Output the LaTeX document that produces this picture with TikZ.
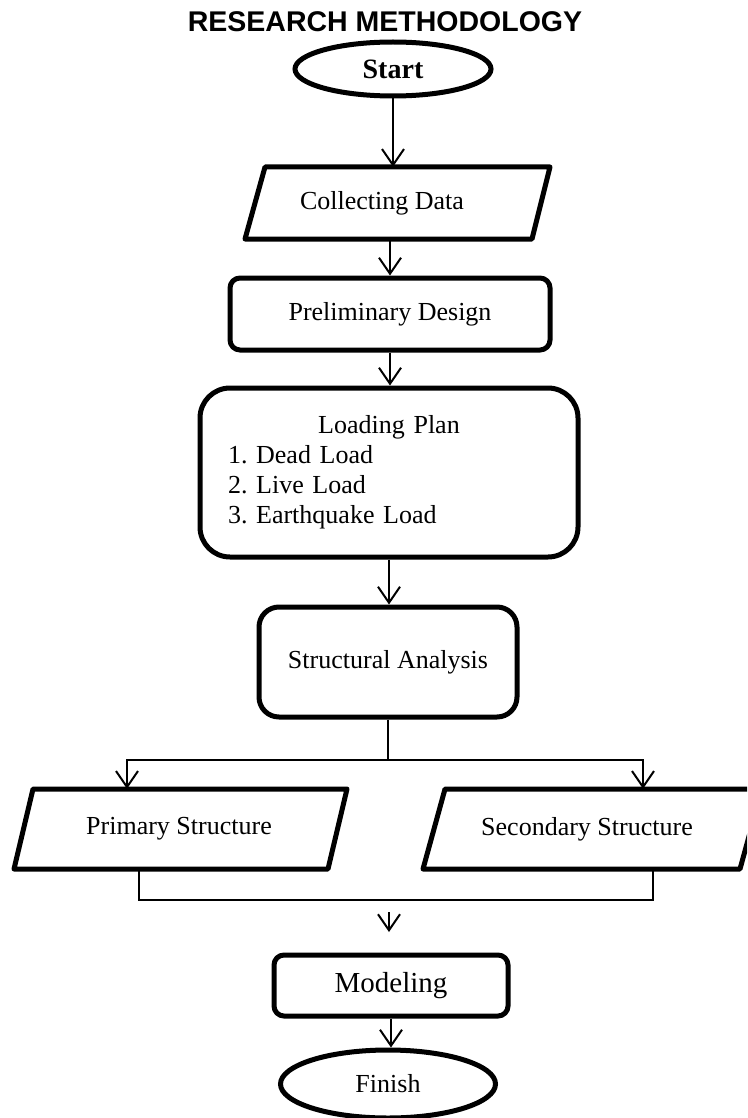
\documentclass[tikz,border=0pt]{standalone}
\usepackage{fontspec}
\setmainfont{Liberation Serif}
\newfontfamily\titlefont{Liberation Sans}
\usetikzlibrary{shapes.geometric,arrows.meta,calc}
\frenchspacing
\begin{document}
\begin{tikzpicture}[x=1pt,y=-1pt,
  bodyfont/.style={font=\fontsize{26}{30}\selectfont},
  rbox/.style={draw, line width=5pt, inner sep=0pt, bodyfont},
  ovalbox/.style={draw, ellipse, line width=5pt, inner sep=0pt, bodyfont},
  txtbox/.style={inner sep=0pt, bodyfont},
  outline/.style={draw, line width=5pt, line join=round},
  conn/.style={draw, line width=2pt},
  arr/.style={conn, -{Straight Barb[length=16pt,width=22pt]}}]
\clip (0,0) rectangle (747,1118);
\fill[white] (0,0) rectangle (747,1118);

\node[font=\titlefont\bfseries\fontsize{28.5}{33}\selectfont] (title) at (385,22) {RESEARCH METHODOLOGY};

\node[ovalbox, minimum width=196pt, minimum height=54pt, font=\bfseries\fontsize{28}{32}\selectfont] (start) at (393,69) {Start};

\node[txtbox, minimum width=286pt, minimum height=72pt] (collect) at (382,203) {Collecting Data};
\draw[outline] ($(collect.center)+(-117,-36)$) -- ($(collect.center)+(168,-36)$) -- ($(collect.center)+(150,36)$) -- ($(collect.center)+(-137,36)$) -- cycle;

\node[rbox, rounded corners=10pt, minimum width=320pt, minimum height=72pt] (prelim) at (390,314) {Preliminary Design};

\node[rbox, rounded corners=30pt, minimum width=378pt, minimum height=169pt, text width=322pt] (loading) at (389,472.5)
  {\centering Loading Plan\par\raggedright 1. Dead Load\\2. Live Load\\3. Earthquake Load};

\node[rbox, rounded corners=20pt, minimum width=258pt, minimum height=110pt] (struct) at (388,662) {Structural Analysis};

\node[txtbox, minimum width=300pt, minimum height=80pt] (primary) at (179,829) {Primary Structure};
\draw[outline] ($(primary.center)+(-146,-40)$) -- ($(primary.center)+(168,-40)$) -- ($(primary.center)+(149,40)$) -- ($(primary.center)+(-165,40)$) -- cycle;

\node[txtbox, minimum width=300pt, minimum height=80pt] (secondary) at (587,829) {Secondary Structure};
\draw[outline] ($(secondary.center)+(-142,-40)$) -- ($(secondary.center)+(175,-40)$) -- ($(secondary.center)+(153,40)$) -- ($(secondary.center)+(-164,40)$) -- cycle;

\node[rbox, rounded corners=10pt, minimum width=234pt, minimum height=61pt, font=\fontsize{29}{33}\selectfont] (model) at (391,985.5) {Modeling};

\node[ovalbox, minimum width=215pt, minimum height=68pt] (finish) at (388,1084) {Finish};

% connectors
\draw[arr] (start.south) -- (start.south |- collect.north);
\draw[arr] (prelim.north |- collect.south) -- (prelim.north);
\draw[arr] (prelim.south) -- (prelim.south |- loading.north);
\draw[arr] (loading.south) -- (loading.south |- struct.north);
\coordinate (split) at (388,760);
\draw[conn] (struct.south) -- (split);
\draw[arr] (split) -| ($(primary.north)+(-52,0)$);
\draw[arr] (split) -| ($(secondary.north)+(56,0)$);
\draw[conn] ($(primary.south)+(-40,0)$) -- ++(0,31) -| ($(secondary.south)+(66,0)$);
\coordinate (gapA) at (389,912);
\coordinate (gapB) at (389,932);
\draw[arr] (gapA) -- (gapB);
\draw[arr] (model.south) -- (model.south |- finish.north);
\end{tikzpicture}
\end{document}
